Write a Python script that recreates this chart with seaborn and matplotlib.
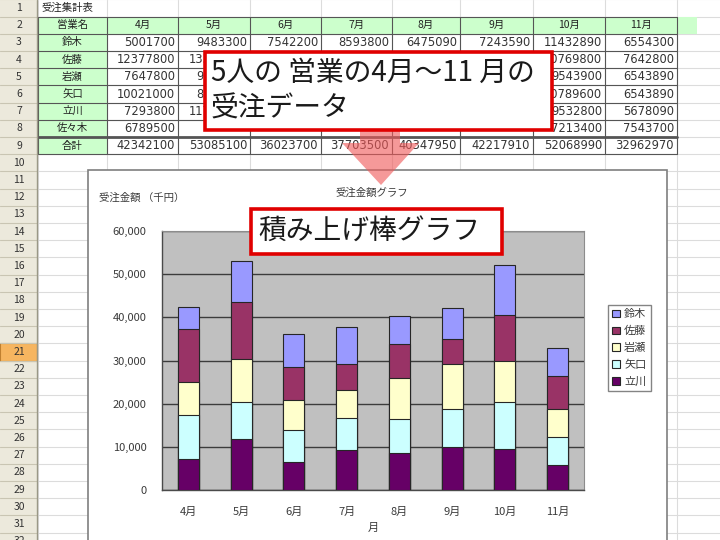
import numpy as np
import pandas as pd
import matplotlib
matplotlib.use('Agg')
import matplotlib.pyplot as plt
import seaborn as sns
from matplotlib.patches import Rectangle, Polygon
from matplotlib.ticker import FuncFormatter, FixedLocator

# ---------------- data (千円) ----------------
months = ['4月', '5月', '6月', '7月', '8月', '9月', '10月', '11月']
suzuki = [5001.7, 9483.3, 7542.2, 8593.8, 6475.09, 7243.59, 11432.89, 6554.3]
sato = [12377.8, 13361.8, 7631.5, 6039.7, 7872.86, 5894.32, 10769.8, 7642.8]
iwase = [7647.8, 9780.0, 7000.0, 6300.0, 9620.0, 10380.0, 9543.9, 6543.89]
yaguchi = [10021.0, 8690.0, 7310.0, 7460.0, 7920.0, 8850.0, 10789.6, 6543.89]
tachikawa = [7293.8, 11770.0, 6540.0, 9310.0, 8460.0, 9850.0, 9532.8, 5678.09]
sasaki_yen = [6789500, None, None, None, None, None, 7213400, 7543700]

table_names = ['鈴木', '佐藤', '岩瀬', '矢口', '立川', '佐々木']
series_colors = {'鈴木': '#9999FF', '佐藤': '#993366', '岩瀬': '#FFFFCC',
                 '矢口': '#CCFFFF', '立川': '#660066'}
yticks = [0, 10000, 20000, 30000, 40000, 50000, 60000]

sns.set_style('white')
plt.rcParams['font.family'] = ['Noto Sans CJK JP', 'DejaVu Sans']

W, H = 720, 540
fig = plt.figure(figsize=(7.2, 5.4), dpi=100)
fig.patch.set_facecolor('white')

# callout box geometry (pixels)
box1 = (205, 52, 552, 130)
box2 = (251, 209, 502, 254)

# ---------------- spreadsheet background ----------------
bg = fig.add_axes([0, 0, 1, 1], zorder=0)
bg.set_xlim(0, W)
bg.set_ylim(H, 0)
bg.axis('off')

rh = 17.2
def rtop(i):
    return (i - 1) * rh - 0.6
def rcen(i):
    return rtop(i) + rh / 2

col_x = [38, 107, 178, 250, 321, 392, 460, 533, 605, 677]

# row header
bg.add_patch(Rectangle((0, 0), 37, H, fc='#ECE9DC', ec='none', zorder=1))
bg.add_patch(Rectangle((0, rtop(21)), 37, rh, fc='#F6B560', ec='#C08030', lw=0.8, zorder=2))
for i in range(1, 34):
    bg.plot([0, 37], [rtop(i), rtop(i)], color='#C9C5B3', lw=0.8, zorder=2)
    if i <= 32:
        bg.text(19, rcen(i), str(i), ha='center', va='center', fontsize=7.5,
                color='#333333', zorder=3)
bg.plot([37, 37], [0, H], color='#9A9886', lw=1, zorder=3)

# sheet grid
for i in range(1, 34):
    bg.plot([37, W], [rtop(i), rtop(i)], color='#DCDCDC', lw=0.8, zorder=1)
for x in col_x:
    bg.plot([x, x], [0, H], color='#DCDCDC', lw=0.8, zorder=1)

# green fills
bg.add_patch(Rectangle((col_x[0], rtop(2)), 697 - col_x[0], rh, fc='#CCFFCC', ec='none', zorder=1.5))
bg.add_patch(Rectangle((col_x[0], rtop(3)), col_x[1] - col_x[0], rh * 7, fc='#CCFFCC', ec='none', zorder=1.5))

# table borders
for i in range(2, 11):
    lw = 2.0 if i == 9 else 0.8
    bg.plot([col_x[0], col_x[-1]], [rtop(i), rtop(i)], color='#555555', lw=lw, zorder=2)
for x in col_x:
    bg.plot([x, x], [rtop(2), rtop(10)], color='#555555', lw=0.8, zorder=2)

tfs = 7.5
nfs = 8.3
tcol = '#222222'
ncol = '#333333'
bg.text(col_x[0] + 3, rcen(1), '受注集計表', ha='left', va='center', fontsize=tfs, color=tcol, zorder=3)
bg.text((col_x[0] + col_x[1]) / 2, rcen(2), '営業名', ha='center', va='center', fontsize=tfs, color=tcol, zorder=3)
for j, m in enumerate(months):
    bg.text((col_x[j + 1] + col_x[j + 2]) / 2, rcen(2), m, ha='center', va='center',
            fontsize=tfs, color=tcol, zorder=3)

def hidden(row, j):
    # cell lies completely behind the first callout box
    x0, x1 = col_x[j + 1], col_x[j + 2]
    return 4 <= row <= 8 and x0 >= box1[0] and x1 <= box1[2]

table_rows = [suzuki, sato, iwase, yaguchi, tachikawa]
for r, name in enumerate(table_names):
    row = r + 3
    bg.text((col_x[0] + col_x[1]) / 2, rcen(row), name, ha='center', va='center',
            fontsize=tfs, color=tcol, zorder=3)
    for j in range(len(months)):
        if hidden(row, j):
            continue
        if r < 5:
            val = f"{int(round(table_rows[r][j] * 1000))}"
        else:
            v = sasaki_yen[j]
            if v is None:
                continue
            val = f"{v}"
        bg.text(col_x[j + 2] - 3, rcen(row), val, ha='right', va='center',
                fontsize=nfs, color=ncol, zorder=3, family='DejaVu Sans')
bg.text((col_x[0] + col_x[1]) / 2, rcen(9), '合計', ha='center', va='center',
        fontsize=tfs, color=tcol, zorder=3)
totals = np.sum(np.array(table_rows), axis=0)
for j in range(len(months)):
    bg.text(col_x[j + 2] - 3, rcen(9), f"{int(round(totals[j] * 1000))}", ha='right',
            va='center', fontsize=nfs, color=ncol, zorder=3, family='DejaVu Sans')

# chart area
bg.add_patch(Rectangle((88, 170), 667 - 88, 400, fc='white', ec='#7F7F7F', lw=1.2, zorder=5))
ccol = '#3A3A3A'
bg.text(372, 193, '受注金額グラフ', ha='center', va='center', fontsize=7.5, color=ccol, zorder=6)
bg.text(99, 198, '受注金額 （千円）', ha='left', va='center', fontsize=7.5, color=ccol, zorder=6)
bg.text(373, 528, '月', ha='center', va='center', fontsize=8, color=ccol, zorder=6)

# ---------------- stacked bar chart ----------------
ax = fig.add_axes([162 / W, 1 - 490 / H, (584 - 162) / W, (490 - 231) / H], zorder=1)
ax.set_facecolor('#C0C0C0')

stack = [('立川', tachikawa), ('矢口', yaguchi), ('岩瀬', iwase), ('佐藤', sato), ('鈴木', suzuki)]
cum = np.cumsum(np.array([s[1] for s in stack]), axis=0)
for (name, _), c in reversed(list(zip(stack, cum))):
    df = pd.DataFrame({'月': months, '金額': c})
    sns.barplot(data=df, x='月', y='金額', order=months, color=series_colors[name],
                saturation=1, width=0.4, edgecolor='#262626', linewidth=0.8,
                errorbar=None, label=name, ax=ax, zorder=3)

ax.set_xlim(-0.5, len(months) - 0.5)
ax.set_ylim(yticks[0], yticks[-1])
ax.yaxis.set_major_locator(FixedLocator(yticks))
ax.yaxis.set_major_formatter(FuncFormatter(lambda v, p: f"{int(v):,}"))
ax.set_axisbelow(True)
ax.yaxis.grid(True, color='#3C3C3C', lw=1)
ax.xaxis.grid(False)
ax.set_xlabel('')
ax.set_ylabel('')
for s in ['top', 'right']:
    ax.spines[s].set_color('#8C8C8C')
    ax.spines[s].set_linewidth(0.8)
for s in ['left', 'bottom']:
    ax.spines[s].set_color('#4A4A4A')
    ax.spines[s].set_linewidth(1.0)
ax.tick_params(axis='y', length=0, pad=11, labelsize=8, labelcolor=ccol)
ax.tick_params(axis='x', length=0, pad=12, labelsize=8, labelcolor=ccol)
ax.set_xticks(np.arange(len(months)) + 0.5, minor=True)
ax.tick_params(axis='x', which='minor', direction='in', length=3, color='#333333')
if ax.get_legend() is not None:
    ax.get_legend().remove()

handles, labels = ax.get_legend_handles_labels()
leg = fig.legend(handles, labels, loc='upper left', bbox_to_anchor=(608 / W, 1 - 305 / H),
                 fontsize=8, frameon=True, fancybox=False, edgecolor='#666666',
                 handlelength=0.7, handleheight=0.7, handletextpad=0.35,
                 borderpad=0.4, labelspacing=0.6, borderaxespad=0)
leg.get_frame().set_linewidth(1.0)
for t in leg.get_texts():
    t.set_color(ccol)

# ---------------- overlay: arrow and callouts ----------------
ov = fig.add_axes([0, 0, 1, 1], zorder=3)
ov.set_xlim(0, W)
ov.set_ylim(H, 0)
ov.axis('off')
ov.add_patch(Polygon([(360, 112), (400, 112), (400, 143), (419, 143), (381, 185),
                      (342, 143), (360, 143)], closed=True, fc='#F05A5A', ec='none',
                     alpha=0.62, zorder=1))
ov.add_patch(Rectangle((box1[0], box1[1]), box1[2] - box1[0], box1[3] - box1[1],
                       fc='white', ec='#E00000', lw=2.6, zorder=2))
ov.text(211, 73, '5人の 営業の4月～11 月の', ha='left', va='center', fontsize=20,
        color='#1A1A1A', zorder=3)
ov.text(211, 109, '受注データ', ha='left', va='center', fontsize=20,
        color='#1A1A1A', zorder=3)
ov.add_patch(Rectangle((box2[0], box2[1]), box2[2] - box2[0], box2[3] - box2[1],
                       fc='white', ec='#E00000', lw=2.6, zorder=2))
ov.text(258, 232, '積み上げ棒グラフ', ha='left', va='center', fontsize=20,
        color='#1A1A1A', zorder=3)

fig.savefig('out.png', dpi=100)
